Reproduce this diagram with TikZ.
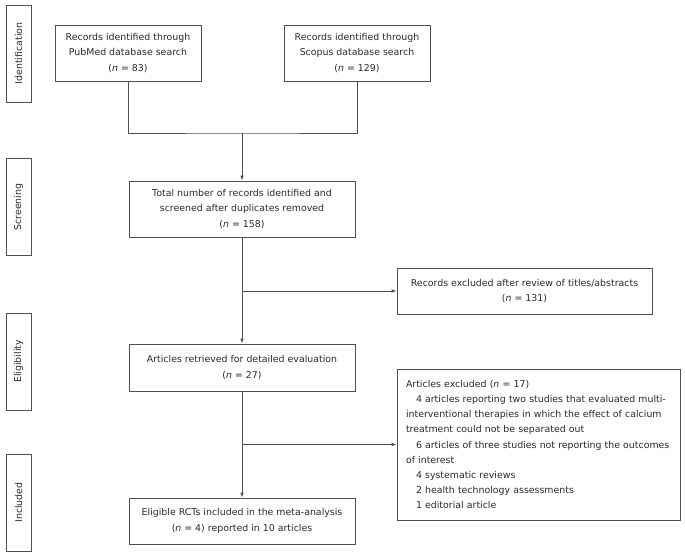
\documentclass[tikz,border=0pt]{standalone}
\usepackage{fontspec}
\setmainfont{DejaVu Sans}
\usetikzlibrary{arrows.meta}
\definecolor{linec}{HTML}{505050}
\definecolor{textc}{HTML}{2A2A2A}
\begin{document}
\begin{tikzpicture}[x=1pt,y=-1pt,
  box/.style={draw=linec, line width=0.8pt, text=textc, align=center, inner sep=2pt,
    font=\fontsize{9.4}{15.8}\selectfont},
  side/.style={draw=linec, line width=0.8pt, text=textc, rotate=90, minimum width=97pt,
    minimum height=25pt, inner sep=0pt, font=\fontsize{9.4}{10}\selectfont},
  conn/.style={draw=linec, line width=0.8pt},
  arr/.style={conn, -{Latex[length=5pt,width=3.5pt]}}]
\useasboundingbox (0,0) rectangle (685,557);
\node[side] (sid) at (18.5,53.5) {Identification};
\node[side] (sscr) at (18.5,207) {Screening};
\node[side] (selig) at (18.5,361.5) {Eligibility};
\node[side] (sinc) at (18.5,502.5) {Included};

\node[box, minimum width=146pt, minimum height=56pt] (b1) at (128,53)
  {Records identified through\\PubMed database search\\(\textit{n} = 83)};
\node[box, minimum width=146pt, minimum height=56pt] (b2) at (357,53)
  {Records identified through\\Scopus database search\\(\textit{n} = 129)};
\node[box, minimum width=226pt, minimum height=56pt] (b3) at (242,209)
  {Total number of records identified and\\screened after duplicates removed\\(\textit{n} = 158)};
\node[box, minimum width=255pt, minimum height=46pt] (b4) at (524.5,291)
  {Records excluded after review of titles/abstracts\\(\textit{n} = 131)};
\node[box, minimum width=226pt, minimum height=47pt] (b5) at (242,367.5)
  {Articles retrieved for detailed evaluation\\(\textit{n} = 27)};
\node[box, minimum width=283pt, minimum height=151pt, text width=265pt, align=left,
  inner xsep=9pt, font=\fontsize{9.4}{15.2}\selectfont] (b6) at (538.5,444.5)
  {Articles excluded (\textit{n} = 17)\\
   \hspace*{10pt}4 articles reporting two studies that evaluated multi-\\
   interventional therapies in which the effect of calcium\\
   treatment could not be separated out\\
   \hspace*{10pt}6 articles of three studies not reporting the outcomes\\
   of interest\\
   \hspace*{10pt}4 systematic reviews\\
   \hspace*{10pt}2 health technology assessments\\
   \hspace*{10pt}1 editorial article};
\node[box, minimum width=226pt, minimum height=46pt] (b7) at (242,521)
  {Eligible RCTs included in the meta-analysis\\(\textit{n} = 4) reported in 10 articles};

\coordinate (j1) at (242,133);
\coordinate (j2) at (242,291);
\coordinate (j3) at (242,444.5);
\draw[conn] (b1.south) |- (j1) -| (b2.south);
\draw[arr] (j1) -- (b3.north);
\draw[arr] (b3.south) -- (b5.north);
\draw[arr] (j2) -- (b4.west);
\draw[arr] (b5.south) -- (b7.north);
\draw[arr] (j3) -- (b6.west);
\end{tikzpicture}
\end{document}
